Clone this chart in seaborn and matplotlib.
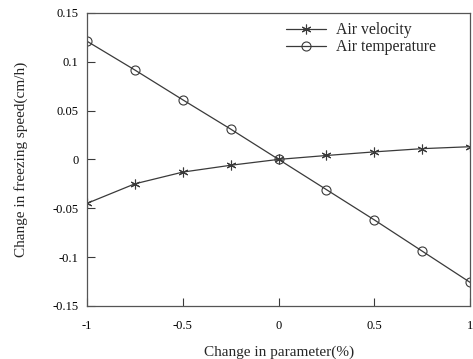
import matplotlib
matplotlib.use("Agg")
import matplotlib.pyplot as plt
import seaborn as sns
import pandas as pd

x_change = [-1, -0.75, -0.5, -0.25, 0, 0.25, 0.5, 0.75, 1]
air_velocity = [-0.045, -0.025, -0.013, -0.006, 0.0, 0.004, 0.0077, 0.011, 0.013]
air_temperature = [0.121, 0.0915, 0.061, 0.031, 0.0, -0.031, -0.062, -0.094, -0.126]
x_ticks = [-1, -0.5, 0, 0.5, 1]
x_tick_labels = ["-1", "-0.5", "0", "0.5", "1"]
y_ticks = [-0.15, -0.1, -0.05, 0, 0.05, 0.1, 0.15]
y_tick_labels = ["-0.15", "-0.1", "-0.05", "0", "0.05", "0.1", "0.15"]

sns.set_theme(style="white")
plt.rcParams['font.family'] = ['Liberation Serif', 'DejaVu Serif']

df = pd.DataFrame({
    "x": x_change * 2,
    "y": air_velocity + air_temperature,
    "series": ["Air velocity"] * len(x_change) + ["Air temperature"] * len(x_change),
})

fig = plt.figure(figsize=(4.73, 3.59), dpi=100)
ax = fig.add_axes([0.184, 0.148, 0.81, 0.816])

col = "#3a3a3a"
sns.lineplot(data=df[df.series == "Air velocity"], x="x", y="y", ax=ax,
             color=col, lw=0.9, marker=(6, 2, 0), markersize=7,
             markeredgecolor=col, markeredgewidth=0.8, label="Air velocity")
sns.lineplot(data=df[df.series == "Air temperature"], x="x", y="y", ax=ax,
             color=col, lw=0.9, marker="o", markersize=6.5,
             markerfacecolor="none", markeredgecolor=col, markeredgewidth=0.8,
             label="Air temperature")

ax.set_xlim(-1, 1)
ax.set_ylim(-0.15, 0.15)
ax.set_xticks(x_ticks)
ax.set_xticklabels(x_tick_labels)
ax.set_yticks(y_ticks)
ax.set_yticklabels(y_tick_labels)
ax.tick_params(axis="both", direction="in", length=6, width=0.8, color=col,
               labelsize=9, labelcolor="black", bottom=True, left=True, top=False, right=False)
ax.tick_params(axis="x", pad=10)
ax.tick_params(axis="y", pad=6)
for s in ax.spines.values():
    s.set_color("#555555")
    s.set_linewidth(0.9)

ax.set_xlabel("Change in parameter(%)", fontsize=11, labelpad=10)
ax.set_ylabel("Change in freezing speed(cm/h)", fontsize=11, labelpad=18)

leg = ax.legend(loc="upper right", frameon=False, fontsize=11.3, handlelength=2.6,
                borderaxespad=0.2, bbox_to_anchor=(0.935, 1.0), labelspacing=0.05,
                handletextpad=0.6)

fig.savefig("out.png", dpi=100)
